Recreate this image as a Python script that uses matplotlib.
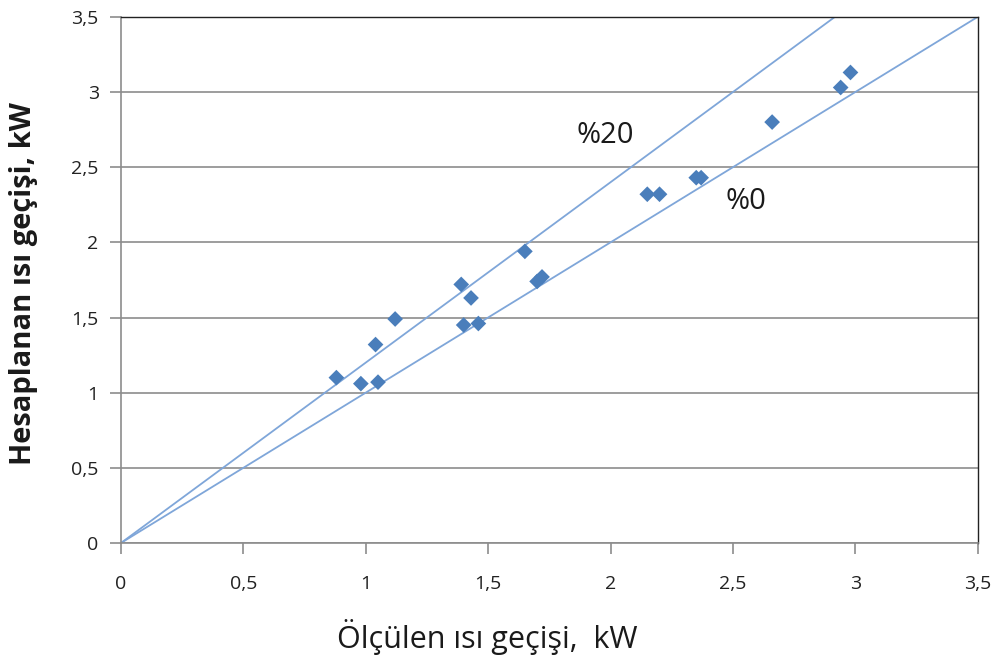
import matplotlib.pyplot as plt
import numpy as np

plt.rcParams['font.family'] = ['Open Sans', 'DejaVu Sans']

# measured vs calculated heat transfer, kW
olculen = [0.88, 0.98, 1.04, 1.05, 1.12, 1.39, 1.40, 1.43, 1.46, 1.65,
           1.70, 1.72, 2.15, 2.20, 2.35, 2.37, 2.66, 2.94, 2.98]
hesaplanan = [1.10, 1.06, 1.32, 1.07, 1.49, 1.72, 1.45, 1.63, 1.46, 1.94,
              1.74, 1.77, 2.32, 2.32, 2.43, 2.43, 2.80, 3.03, 3.13]

# reference lines: %0 deviation and %20 deviation
sapmalar = [0.0, 0.20]
sapma_etiket = ['%0', '%20']
etiket_konum = [(2.555, 2.27), (1.98, 2.71)]

ticks = [0, 0.5, 1, 1.5, 2, 2.5, 3, 3.5]
tick_labels = ['0', '0,5', '1', '1,5', '2', '2,5', '3', '3,5']

fig = plt.figure(figsize=(10.08, 6.66), dpi=100)
ax = fig.add_axes([0.12, 0.1847, 0.850, 0.790])

line_x = np.array([0, 3.5])
for s in sapmalar:
    ax.plot(line_x, line_x * (1 + s), color='#7fa6d9', lw=1.3, zorder=2)
for lab, (tx, ty) in zip(sapma_etiket, etiket_konum):
    ax.text(tx, ty, lab, fontsize=21, ha='center', va='center', color='#1a1a1a')

ax.scatter(olculen, hesaplanan, marker='D', s=64, color='#4a7ebb',
           edgecolors='none', zorder=3)

ax.set_xlim(0, 3.5)
ax.set_ylim(0, 3.5)
ax.set_xticks(ticks)
ax.set_xticklabels(tick_labels)
ax.set_yticks(ticks)
ax.set_yticklabels(tick_labels)
ax.yaxis.grid(True, color='#8c8c8c', lw=1.2)
ax.set_axisbelow(True)

for side in ['left', 'bottom']:
    ax.spines[side].set_color('#8c8c8c')
    ax.spines[side].set_linewidth(1.2)
for side in ['top', 'right']:
    ax.spines[side].set_color('#222222')
    ax.spines[side].set_linewidth(1.0)

ax.tick_params(axis='both', direction='out', length=8, width=1.2,
               color='#8c8c8c', labelsize=14, labelcolor='#222222')
ax.tick_params(axis='x', pad=15)
ax.tick_params(axis='y', pad=8)

ax.set_xlabel('Ölçülen ısı geçişi,  kW', fontsize=22, va='center', color='#1a1a1a')
ax.xaxis.set_label_coords(0.427, -0.179)
ax.set_ylabel('Hesaplanan ısı geçişi, kW', fontsize=21, fontweight='bold',
              va='center', color='#1a1a1a')
ax.yaxis.set_label_coords(-0.1135, 0.494)

fig.savefig('out.png', dpi=100)
